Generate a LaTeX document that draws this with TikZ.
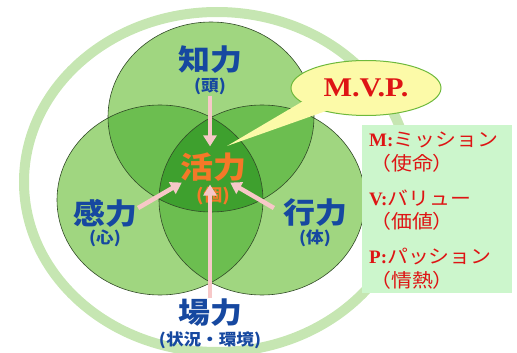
\documentclass[tikz,border=0pt]{standalone}
\usepackage{fontspec}
\newfontfamily\jpfont{Noto Sans CJK JP}[FakeStretch=1.1]
\newfontfamily\latnfont{Liberation Serif}
\newfontfamily\mvpfont{Liberation Serif}[FakeStretch=1.12]
\usetikzlibrary{arrows.meta,calc,shapes.geometric}

\definecolor{ringgreen}{RGB}{198,230,178}
\definecolor{onegreen}{RGB}{160,214,128}
\definecolor{twogreen}{RGB}{108,190,80}
\definecolor{threegreen}{RGB}{62,160,46}
\definecolor{edgegreen}{RGB}{50,75,40}
\definecolor{lblblue}{RGB}{22,72,160}
\definecolor{katsuorange}{RGB}{245,120,40}
\definecolor{arrpink}{RGB}{247,200,200}
\definecolor{mvpyellow}{RGB}{252,250,168}
\definecolor{mvpedge}{RGB}{110,185,60}
\definecolor{mvpred}{RGB}{222,20,20}
\definecolor{keygreen}{RGB}{204,246,204}

\newcommand\keylat[1]{{\latnfont\bfseries\fontsize{19}{19}\selectfont #1}}

\begin{document}
\begin{tikzpicture}[x=1pt, y=-1pt,
    petal/.style={x radius=103pt, y radius=95pt},
    ring/.style={draw=ringgreen, line width=10pt},
    lbl/.style={font=\jpfont\bfseries\fontsize{29}{29}\selectfont,
                text=lblblue, inner sep=1pt},
    sub/.style={font=\jpfont\bfseries\fontsize{16}{16}\selectfont,
                text=lblblue, inner sep=1pt},
    ctr/.style={font=\jpfont\bfseries\fontsize{30}{30}\selectfont,
                text=katsuorange, inner sep=1pt},
    arr/.style={-{Triangle[width=13pt,length=11pt]}, line width=4.5pt,
                draw=arrpink},
    mvp/.style={ellipse, draw=mvpedge, line width=1pt, fill=mvpyellow,
                 minimum width=150pt, minimum height=55pt, text=mvpred,
                 font=\mvpfont\bfseries\fontsize{27}{27}\selectfont},
    keybox/.style={fill=keygreen, minimum width=150pt,
                   minimum height=168pt, inner sep=0pt},
    keyline/.style={anchor=west, inner sep=0pt, text=mvpred,
                    font=\jpfont\fontsize{19}{19}\selectfont}
  ]
  \useasboundingbox (0,0) rectangle (517,353);
  % outer ring
  \draw[ring] (217,182) ellipse [x radius=193pt, y radius=170pt];
  % three circles
  \coordinate (ctop) at (211,117);
  \coordinate (cleft) at (160,200);
  \coordinate (cright) at (262,200);
  \fill[onegreen] (ctop) ellipse [petal];
  \fill[onegreen] (cleft) ellipse [petal];
  \fill[onegreen] (cright) ellipse [petal];
  \begin{scope}
    \clip (ctop) ellipse [petal];
    \fill[twogreen] (cleft) ellipse [petal];
    \fill[twogreen] (cright) ellipse [petal];
  \end{scope}
  \begin{scope}
    \clip (cleft) ellipse [petal];
    \fill[twogreen] (cright) ellipse [petal];
  \end{scope}
  \begin{scope}
    \clip (ctop) ellipse [petal];
    \clip (cleft) ellipse [petal];
    \fill[threegreen] (cright) ellipse [petal];
  \end{scope}
  \draw[edgegreen, line width=0.6pt] (ctop) ellipse [petal]
    (cleft) ellipse [petal] (cright) ellipse [petal];
  % M.V.P. callout
  \node[mvp] (mvp) at (366,88) {M.V.P.};
  \coordinate (mvptip) at (227,146);
  \fill[mvpyellow] ($(mvp.center)!0.85!(mvp.190)$) -- (mvptip)
    -- ($(mvp.center)!0.85!(mvp.212)$) -- cycle;
  % key
  \node[keybox, anchor=north west] (key) at (362,125) {};
  \node[keyline] (mline) at (369,140) {\keylat{M:}ミッション};
  \node[keyline] (msub) at (370,163) {（使命）};
  \node[keyline] (vline) at (369,198) {\keylat{V:}バリュー};
  \node[keyline] (vsub) at (370,221) {（価値）};
  \node[keyline] (pline) at (369,257) {\keylat{P:}パッション};
  \node[keyline] (psub) at (370,280) {（情熱）};
  % labels
  \node[lbl] (chi) at (210,60) {知力};
  \node[sub] (chisub) at (210,86) {(頭)};
  \node[lbl] (kan) at (105,213) {感力};
  \node[sub] (kansub) at (105,238) {(心)};
  \node[lbl] (gyo) at (315,213) {行力};
  \node[sub] (gyosub) at (315,238) {(体)};
  \node[lbl] (ba) at (210,313) {場力};
  \node[sub] (basub) at (210,340) {(状況・環境)};
  \node[ctr] (katsu) at (213,167) {活力};
  \node[ctr, font=\jpfont\bfseries\fontsize{17}{17}\selectfont]
    (ko) at (213,196) {(個)};
  % arrows into the centre
  \draw[arr] (chisub.south) -- ([yshift=5pt]chisub.south |- katsu.north);
  \draw[arr] (ba.north) -- ([yshift=-2pt]ba.north |- katsu.south);
  \draw[arr] ([yshift=5pt]kan.east) -- ([xshift=3pt]katsu.south west);
  \draw[arr] ([xshift=-8pt,yshift=5pt]gyo.west)
    -- ([xshift=-17pt]katsu.south east);
\end{tikzpicture}
\end{document}
